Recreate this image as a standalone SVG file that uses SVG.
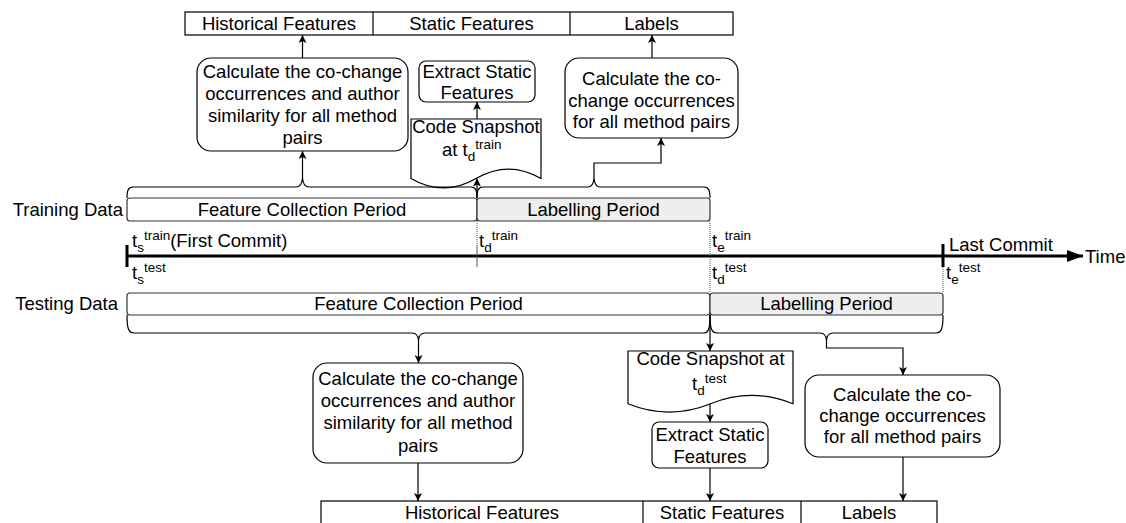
<svg xmlns="http://www.w3.org/2000/svg" width="1126" height="523" viewBox="0 0 1126 523">
<style>
text{font-family:"Liberation Sans",Arial,sans-serif;font-size:18.5px;fill:#000}
.c{text-anchor:middle}
.e{text-anchor:end}
.s{font-size:13.5px}
.box{fill:#fff;stroke:#000;stroke-width:1.2}
.bar{fill:#fff;stroke:#333;stroke-width:1.2}
.gray{fill:#eeeeee;stroke:#333;stroke-width:1.2}
.ln{fill:none;stroke:#000;stroke-width:1.2}
.arr{fill:none;stroke:#000;stroke-width:1.2;marker-end:url(#ah)}
.dot{fill:none;stroke:#555;stroke-width:1;stroke-dasharray:1 1}
.tick{stroke:#000;stroke-width:3}
</style>
<defs>
<marker id="ah" viewBox="0 0 8 8" refX="8" refY="4" markerWidth="8" markerHeight="8" markerUnits="userSpaceOnUse" orient="auto">
<path d="M0,0 L8,4 L0,8 L2,4 z" fill="#000"/>
</marker>
<marker id="big" viewBox="0 0 16 12" refX="16" refY="6" markerWidth="16" markerHeight="12" markerUnits="userSpaceOnUse" orient="auto">
<path d="M0,0 L16,6 L0,12 z" fill="#000"/>
</marker>
</defs>
<rect width="1126" height="523" fill="#fff"/>

<g id="top-table">
<rect x="185" y="12" width="548" height="23" class="box"/>
<line x1="373" y1="12" x2="373" y2="35" class="ln"/>
<line x1="570" y1="12" x2="570" y2="35" class="ln"/>
<text x="279" y="30" class="c">Historical Features</text>
<text x="471.5" y="30" class="c">Static Features</text>
<text x="651.5" y="30" class="c">Labels</text>
</g>

<g id="train-hist-box">
<rect x="197" y="58" width="211" height="93" rx="14" class="box"/>
<text class="c"><tspan x="302.5" y="78">Calculate the co-change</tspan><tspan x="302.5" y="100">occurrences and author</tspan><tspan x="302.5" y="122">similarity for all method</tspan><tspan x="302.5" y="144">pairs</tspan></text>
</g>

<g id="train-static-box">
<rect x="419" y="61" width="116" height="41" rx="7" class="box"/>
<text class="c"><tspan x="477" y="78">Extract Static</tspan><tspan x="477" y="99">Features</tspan></text>
</g>

<g id="train-snapshot">
<path d="M411,119 H541 V178.5 Q508.5,159.6 476,178.5 Q443.5,197.4 411,178.5 Z" class="box"/>
<text x="476" y="133" class="c">Code Snapshot</text>
<text x="442" y="156">at t<tspan class="s" dy="5">d</tspan><tspan class="s" dy="-12">train</tspan></text>
</g>

<g id="train-label-box">
<rect x="565" y="58" width="173" height="80" rx="14" class="box"/>
<text class="c"><tspan x="651.5" y="85">Calculate the co-</tspan><tspan x="651.5" y="107">change occurrences</tspan><tspan x="651.5" y="128">for all method pairs</tspan></text>
</g>

<g id="training-data">
<text x="123" y="216" class="e">Training Data</text>
<rect x="127" y="198" width="350" height="23" rx="3" class="bar"/>
<text x="302" y="216" class="c">Feature Collection Period</text>
<rect x="477" y="198" width="233" height="23" rx="3" class="gray"/>
<text x="593.5" y="216" class="c">Labelling Period</text>
</g>

<g id="timeline">
<line x1="127" y1="256" x2="1083" y2="256" stroke="#000" stroke-width="3" marker-end="url(#big)"/>
<line x1="127" y1="245" x2="127" y2="267" class="tick"/>
<line x1="943" y1="244" x2="943" y2="267" class="tick"/>
<line x1="477" y1="221" x2="477" y2="245" class="dot"/>
<line x1="477" y1="245" x2="477" y2="267" stroke="#555" stroke-width="1"/>
<line x1="710" y1="221" x2="710" y2="293" class="dot"/>
<line x1="943" y1="267" x2="943" y2="293" class="dot"/>
<text x="132" y="247">t<tspan class="s" dy="5">s</tspan><tspan class="s" dy="-12">train</tspan><tspan dy="7">(First Commit)</tspan></text>
<text x="479" y="247">t<tspan class="s" dy="5">d</tspan><tspan class="s" dy="-12">train</tspan></text>
<text x="712" y="247">t<tspan class="s" dy="5">e</tspan><tspan class="s" dy="-12">train</tspan></text>
<text x="949" y="251">Last Commit</text>
<text x="1085" y="263">Time</text>
<text x="132" y="279">t<tspan class="s" dy="5">s</tspan><tspan class="s" dy="-12">test</tspan></text>
<text x="712" y="279">t<tspan class="s" dy="5">d</tspan><tspan class="s" dy="-12">test</tspan></text>
<text x="946" y="279">t<tspan class="s" dy="5">e</tspan><tspan class="s" dy="-12">test</tspan></text>
</g>

<g id="testing-data">
<text x="118" y="310" class="e">Testing Data</text>
<rect x="127" y="293" width="583" height="22" rx="3" class="bar"/>
<text x="418.5" y="310" class="c">Feature Collection Period</text>
<rect x="710" y="293" width="233" height="22" rx="3" class="gray"/>
<text x="826.5" y="310" class="c">Labelling Period</text>
</g>

<g id="test-hist-box">
<rect x="313" y="363" width="210" height="100" rx="14" class="box"/>
<text class="c"><tspan x="418" y="385">Calculate the co-change</tspan><tspan x="418" y="407">occurrences and author</tspan><tspan x="418" y="429">similarity for all method</tspan><tspan x="418" y="452">pairs</tspan></text>
</g>

<g id="test-snapshot">
<path d="M628,351 H793 V403.7 Q751.75,387 710.5,403.7 Q669.25,420.4 628,403.7 Z" class="box"/>
<text x="710.5" y="365" class="c">Code Snapshot at</text>
<text x="692" y="390">t<tspan class="s" dy="5">d</tspan><tspan class="s" dy="-12">test</tspan></text>
</g>

<g id="test-static-box">
<rect x="652" y="422" width="116" height="46" rx="7" class="box"/>
<text class="c"><tspan x="710" y="441">Extract Static</tspan><tspan x="710" y="463">Features</tspan></text>
</g>

<g id="test-label-box">
<rect x="805" y="375" width="195" height="82" rx="14" class="box"/>
<text class="c"><tspan x="902.5" y="401">Calculate the co-</tspan><tspan x="902.5" y="422">change occurrences</tspan><tspan x="902.5" y="443">for all method pairs</tspan></text>
</g>

<g id="bottom-table">
<rect x="321" y="501" width="616" height="30" class="box"/>
<line x1="643" y1="501" x2="643" y2="523" class="ln"/>
<line x1="801" y1="501" x2="801" y2="523" class="ln"/>
<text x="482" y="519" class="c">Historical Features</text>
<text x="722" y="519" class="c">Static Features</text>
<text x="869" y="519" class="c">Labels</text>
</g>

<g id="connectors">
<path class="ln" d="M127,198 C127,191 128,187 133,187 H296 C300,187 302,184 302.5,178 C303,184 305,187 309,187 H471 C476,187 477,191 477,198"/>
<path class="ln" d="M477,198 C477,191 478,187 483,187 H588 C592,187 593.5,184 594,178 C594.5,184 596,187 600,187 H704 C709,187 710,191 710,198"/>
<path class="ln" d="M127,315 C127,327 128,333 134,333 H412 C416,333 418,335 418.5,340 C419,335 421,333 425,333 H704 C709,333 710,327 710,315"/>
<path class="ln" d="M710,315 C710,327 711,333 717,333 H820 C824,333 826,335 826.5,340 C827,335 829,333 833,333 H936 C942,333 943,327 943,315"/>

<path class="arr" d="M302.5,178 V151"/>
<path class="arr" d="M302.5,58 V35"/>
<path class="arr" d="M652,58 V35"/>
<path class="arr" d="M477,198 V178.5"/>
<path class="arr" d="M477,119 V102"/>
<path class="arr" d="M594,178 V163 H661 V138"/>

<path class="arr" d="M418.5,340 V363"/>
<path class="arr" d="M418,463 V501"/>
<path class="arr" d="M710,315 V351"/>
<path class="arr" d="M710,404 V422"/>
<path class="arr" d="M710,468 V501"/>
<path class="arr" d="M826.5,340 V348 H903 V375"/>
<path class="arr" d="M903,457 V501"/>
</g>
</svg>
